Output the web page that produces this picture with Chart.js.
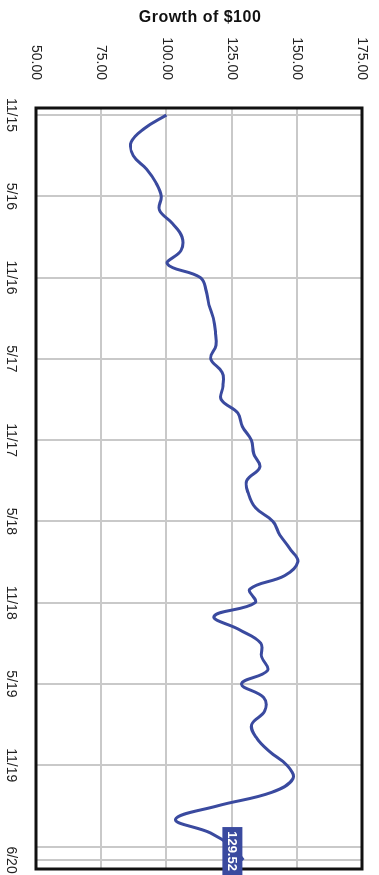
<!DOCTYPE html>
<html>
<head>
<meta charset="utf-8">
<title>Growth of $100</title>
<script src="https://cdn.jsdelivr.net/npm/chart.js@4/dist/chart.umd.min.js"></script>
<style>
body{margin:0;background:#fff;width:379px;height:875px;overflow:hidden;position:relative;font-family:"Liberation Sans",Arial,sans-serif}
#titulo{position:absolute;top:8px;left:0;width:400px;text-align:center;font-size:16px;font-weight:bold;letter-spacing:0.5px;color:#111;z-index:2}
#giro{position:absolute;left:0;top:0;width:875px;height:379px;transform-origin:0 0;transform:translateX(379px) rotate(90deg)}
</style>
</head>
<body>
<div id="titulo">Growth of $100</div>
<div id="giro"><canvas id="grafico" width="875" height="379"></canvas></div>
<script>
// meses de la serie (mes/año)
var meses = ['11/15','12/15',
	'1/16','2/16','3/16','4/16','5/16','6/16','7/16','8/16','9/16','10/16','11/16','12/16',
	'1/17','2/17','3/17','4/17','5/17','6/17','7/17','8/17','9/17','10/17','11/17','12/17',
	'1/18','2/18','3/18','4/18','5/18','6/18','7/18','8/18','9/18','10/18','11/18','12/18',
	'1/19','2/19','3/19','4/19','5/19','6/19','7/19','8/19','9/19','10/19','11/19','12/19',
	'1/20','2/20','3/20','4/20','5/20','6/20'];

// crecimiento de $100
var valores = [100.0, 91.5,
	86.5, 87.3, 92.4, 96.0, 98.0, 97.3, 102.3, 106.0, 105.6, 100.4, 113.0, 115.3,
	116.3, 118.0, 118.8, 119.0, 117.0, 121.4, 121.7, 121.0, 127.4, 129.1, 132.6, 133.5,
	135.8, 130.8, 131.5, 134.2, 140.8, 143.5, 147.3, 150.4, 145.4, 132.0, 134.0, 118.3,
	128.0, 136.2, 136.5, 138.8, 128.8, 137.3, 137.7, 132.7, 134.6, 139.6, 146.2, 148.5,
	140.4, 119.6, 103.5, 116.9, 125.0, 129.52];

// marcas del eje de valores
var ticksValor = [50, 75, 100, 125, 150, 175];

// meses con linea de cuadricula; el 5/20 va sin etiqueta
var marcasFecha = ['11/15','5/16','11/16','5/17','11/17','5/18','11/18','5/19','11/19','5/20','6/20'];
var sinEtiqueta = ['5/20'];

var puntos = valores.map(function(v, i){ return {x: i, y: v}; });

var marco = {
	id: 'marco',
	afterDatasetsDraw: function(chart){
		var a = chart.chartArea, ctx = chart.ctx;
		ctx.save();
		ctx.strokeStyle = '#111';
		ctx.lineWidth = 3;
		ctx.strokeRect(a.left, a.top, a.right - a.left, a.bottom - a.top);
		ctx.restore();
	}
};

// caja con el ultimo valor
var ultimoValor = {
	id: 'ultimoValor',
	afterDatasetsDraw: function(chart){
		var meta = chart.getDatasetMeta(0);
		var p = meta.data[meta.data.length - 1];
		var ctx = chart.ctx;
		var texto = valores[valores.length - 1].toFixed(2);
		ctx.save();
		ctx.fillStyle = '#3a4a9f';
		ctx.fillRect(p.x - 33, p.y + 1, 48, 20);
		ctx.fillStyle = '#fff';
		ctx.font = 'bold 13px "Liberation Sans", Arial, sans-serif';
		ctx.textAlign = 'center';
		ctx.textBaseline = 'middle';
		ctx.fillText(texto, p.x - 9, p.y + 11.5);
		ctx.restore();
	}
};

var ctx = document.getElementById('grafico').getContext('2d');
var grafico = new Chart(ctx, {
	type: 'line',
	data: {
		datasets: [{
			data: puntos,
			borderColor: '#3a4a9f',
			borderWidth: 3,
			tension: 0.4,
			pointRadius: 0,
			fill: false
		}]
	},
	options: {
		responsive: false,
		animation: false,
		devicePixelRatio: 1,
		layout: { padding: { top: 17, right: 6, left: 0, bottom: 0 } },
		plugins: { legend: { display: false }, tooltip: { enabled: false } },
		scales: {
			x: {
				type: 'linear',
				position: 'bottom',
				min: -0.52,
				max: 55.66,
				afterBuildTicks: function(s){
					s.ticks = marcasFecha.map(function(m){ return {value: meses.indexOf(m)}; });
				},
				afterFit: function(s){
					s.height = 36;
					s.paddingLeft = 0;
					s.paddingRight = 0;
				},
				ticks: {
					autoSkip: false,
					maxRotation: 0,
					padding: 17,
					color: '#222',
					font: { family: '"Liberation Sans", Arial, sans-serif', size: 14 },
					callback: function(v){
						var m = meses[v];
						return sinEtiqueta.indexOf(m) >= 0 ? '' : m;
					}
				},
				grid: { color: '#c9c9c9', lineWidth: 2, drawTicks: false },
				border: { display: false }
			},
			y: {
				min: 50,
				max: 175,
				afterBuildTicks: function(s){
					s.ticks = ticksValor.map(function(v){ return {value: v}; });
				},
				afterFit: function(s){
					s.width = 108;
					s.paddingTop = 0;
					s.paddingBottom = 0;
				},
				ticks: {
					padding: 28,
					color: '#222',
					font: { family: '"Liberation Sans", Arial, sans-serif', size: 14 },
					callback: function(v){ return v.toFixed(2); }
				},
				grid: { color: '#c9c9c9', lineWidth: 2, drawTicks: false },
				border: { display: false }
			}
		}
	},
	plugins: [marco, ultimoValor]
});
</script>
</body>
</html>
